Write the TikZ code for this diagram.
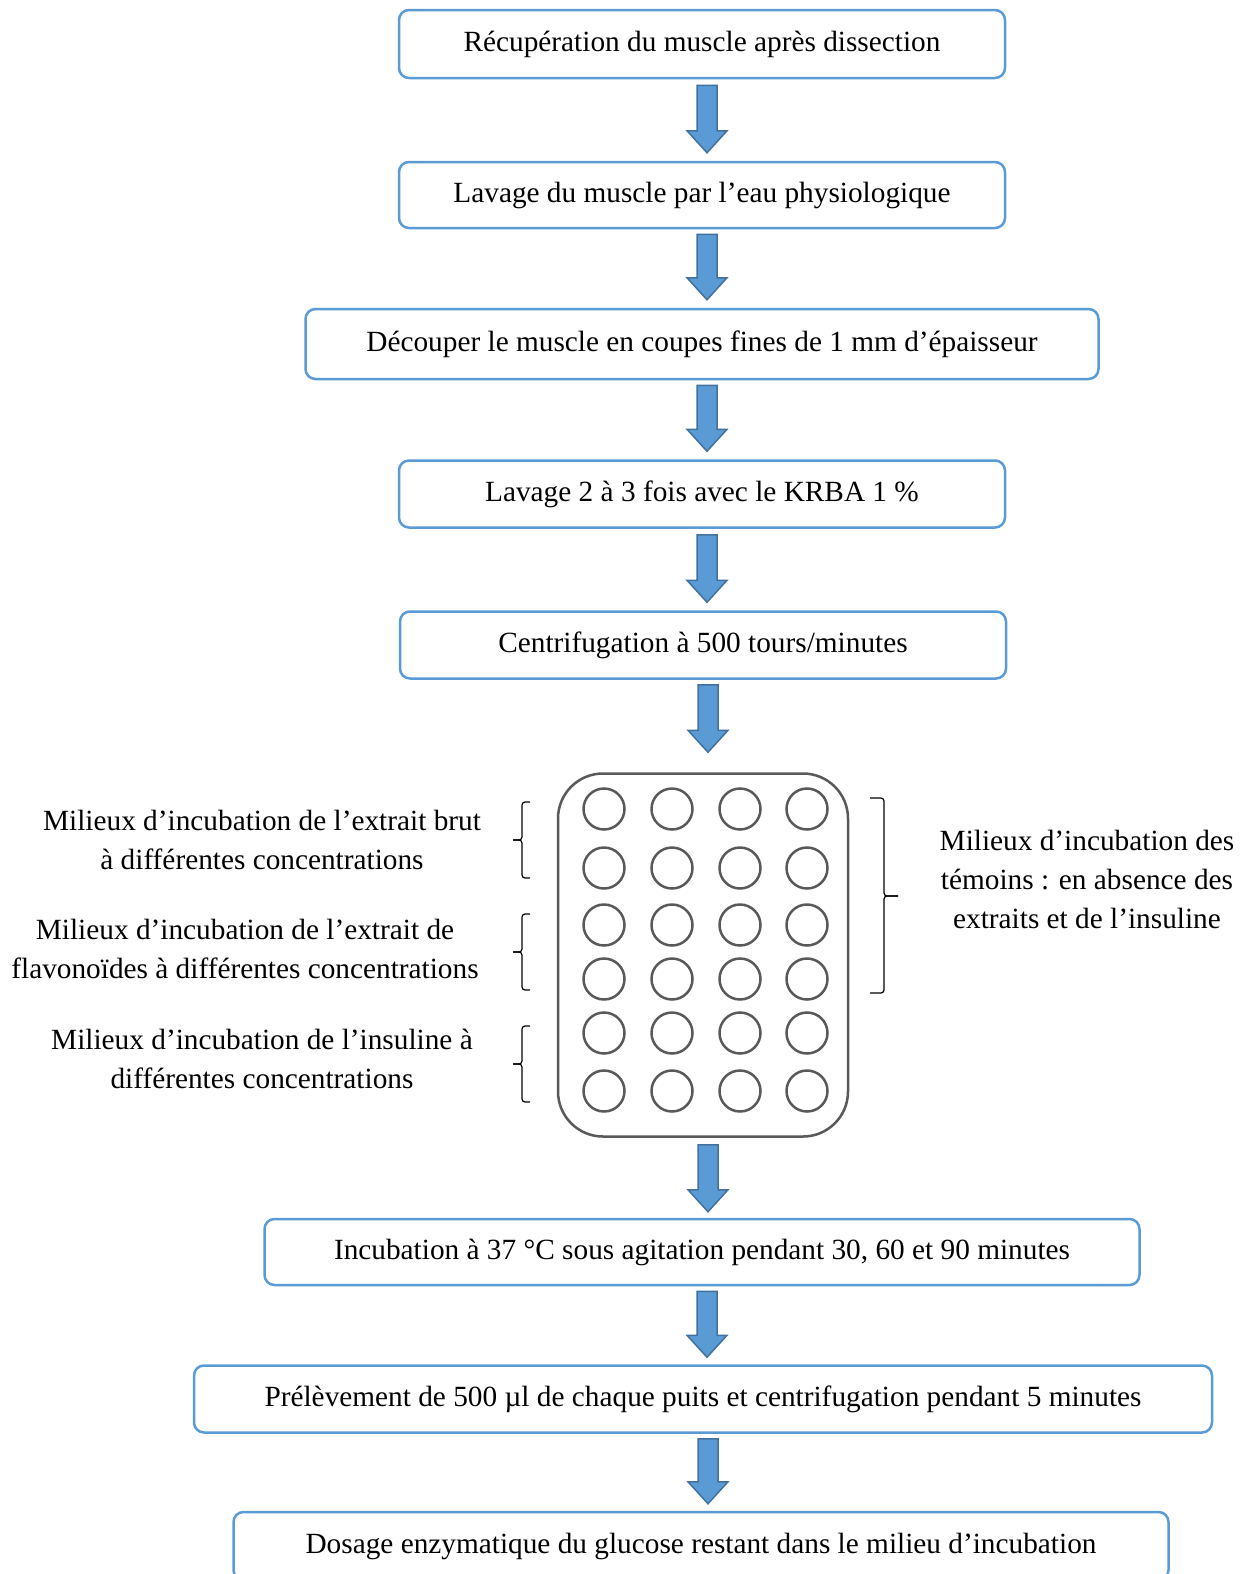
\documentclass[tikz,border=0pt]{standalone}
\usepackage{fontspec}
\setmainfont{Liberation Serif}
\usetikzlibrary{calc}
\definecolor{boxblue}{HTML}{5B9BD5}
\definecolor{arrborder}{HTML}{41719C}
\definecolor{plategray}{HTML}{595959}
\tikzset{
  stepbox/.style={draw=boxblue, line width=2.5pt, rounded corners=10pt, fill=white, inner sep=0pt,
    font=\fontsize{29.3}{39}\selectfont},
  barrow/.style={fill=boxblue, draw=arrborder, line width=1.5pt, line join=miter},
  plate/.style={draw=plategray, line width=2.5pt, rounded corners=45pt, inner sep=0pt,
    minimum width=290pt, minimum height=363pt},
  well/.style={draw=plategray, line width=2.5pt, circle, inner sep=0pt, minimum size=41pt},
  sidetext/.style={align=center, inner sep=0pt, font=\fontsize{29.3}{39}\selectfont},
  bracket/.style={draw=black, line width=1.2pt, rounded corners=3pt}
}
\newcommand\blockarr[4]{%
  \draw[barrow] let \p1=($(#1.south)+(5pt,-#3pt)$), \p2=($(#2.north)+(5pt,#4pt)$) in
  (\x1-10pt,\y1) -- (\x1+10pt,\y1) -- (\x1+10pt,\y2+22pt) -- (\x1+20pt,\y2+22pt) --
  (\x1,\y2) -- (\x1-20pt,\y2+22pt) -- (\x1-10pt,\y2+22pt) -- cycle;}
\begin{document}
\begin{tikzpicture}[x=1pt,y=-1pt]
\useasboundingbox (0,0) rectangle (1247,1574);
\fill[white] (0,0) rectangle (1247,1574);

\node[stepbox, minimum width=606pt, minimum height=68pt] (b1) at (702,44) {Récupération du muscle après dissection};
\node[stepbox, minimum width=606pt, minimum height=66pt] (b2) at (702,195) {Lavage du muscle par l’eau physiologique};
\node[stepbox, minimum width=793pt, minimum height=70pt] (b3) at (702,344) {Découper le muscle en coupes fines de 1 mm d’épaisseur};
\node[stepbox, minimum width=606pt, minimum height=67pt] (b4) at (702,494) {Lavage 2 à 3 fois avec le KRBA 1 \%};
\node[stepbox, minimum width=606pt, minimum height=67pt] (b5) at (703,645) {Centrifugation à 500 tours/minutes};

\node[plate] (pl) at (703,955) {};
\foreach \r/\y in {1/809,2/868,3/925,4/979,5/1033,6/1091}{
  \foreach \c/\x in {1/604,2/672,3/740,4/807}{
    \node[well] (w\r\c) at (\x,\y) {};
  }
}

\node[stepbox, minimum width=875pt, minimum height=66pt] (b6) at (702,1252) {Incubation à 37 °C sous agitation pendant 30, 60 et 90 minutes};
\node[stepbox, minimum width=1018pt, minimum height=67pt] (b7) at (703,1399) {Prélèvement de 500 µl de chaque puits et centrifugation pendant 5 minutes};
\node[stepbox, minimum width=935pt, minimum height=68pt] (b8) at (701,1546) {Dosage enzymatique du glucose restant dans le milieu d’incubation};

\blockarr{b1}{b2}{6}{8}
\blockarr{b2}{b3}{5}{8}
\blockarr{b3}{b4}{5}{8}
\blockarr{b4}{b5}{6}{8}
\blockarr{b5}{pl}{5}{20}
\blockarr{pl}{b6}{7}{6}
\blockarr{b6}{b7}{5}{7}
\blockarr{b7}{b8}{5}{7}

\node[sidetext] (t1) at (262,840) {Milieux d’incubation de l’extrait brut\\à différentes concentrations};
\node[sidetext] (t2) at (245,949) {Milieux d’incubation de l’extrait de\\flavonoïdes à différentes concentrations};
\node[sidetext] (t3) at (262,1059) {Milieux d’incubation de l’insuline à\\différentes concentrations};
\node[sidetext] (t4) at (1087,879) {Milieux d’incubation des\\témoins : en absence des\\extraits et de l’insuline};

\draw[bracket] (530,802) -- (522,802) -- (522,840) -- (513,840);
\draw[bracket] (513,840) -- (522,840) -- (522,878) -- (530,878);
\draw[bracket] (530,914) -- (522,914) -- (522,952) -- (513,952);
\draw[bracket] (513,952) -- (522,952) -- (522,990) -- (530,990);
\draw[bracket] (530,1026) -- (522,1026) -- (522,1064) -- (513,1064);
\draw[bracket] (513,1064) -- (522,1064) -- (522,1102) -- (530,1102);
\draw[bracket] (870,798) -- (884,798) -- (884,896) -- (898,896);
\draw[bracket] (898,896) -- (884,896) -- (884,993) -- (870,993);
\end{tikzpicture}
\end{document}
